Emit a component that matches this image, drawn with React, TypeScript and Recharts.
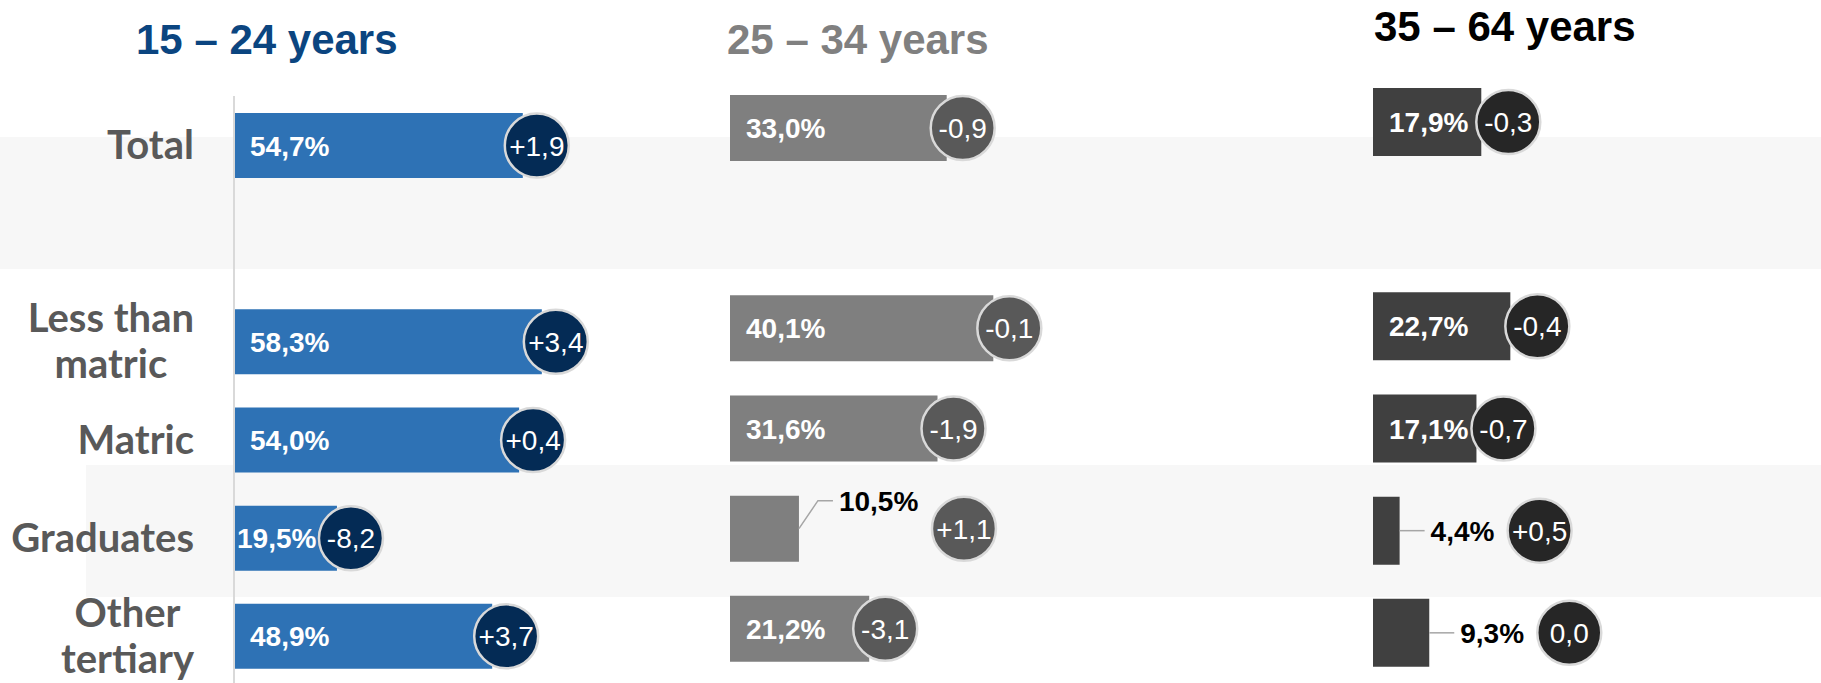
import { BarChart, Bar, XAxis, YAxis, LabelList } from 'recharts';

// Categories (the empty one is the spacer row under "Total").
const categories = ['Total', '', 'Less than matric', 'Matric', 'Graduates', 'Other tertiary'];

const rate15to24 = [54.7, null, 58.3, 54.0, 19.5, 48.9];
const change15to24 = [1.9, null, 3.4, 0.4, -8.2, 3.7];

const rate25to34 = [33.0, null, 40.1, 31.6, 10.5, 21.2];
const change25to34 = [-0.9, null, -0.1, -1.9, 1.1, -3.1];

const rate35to64 = [17.9, null, 22.7, 17.1, 4.4, 9.3];
const change35to64 = [-0.3, null, -0.4, -0.7, 0.5, 0.0];

const panelTitles = ['15 – 24 years', '25 – 34 years', '35 – 64 years'];

const FONT = '"Liberation Sans", Arial, sans-serif';
const CAT_FONT = 'Lato, "Open Sans", sans-serif';
const CAT_SIZE = 40;

const fmtRate = (v: number) => `${v.toFixed(1).replace('.', ',')}%`;
const fmtChange = (v: number) =>
  (v > 0 ? '+' : v < 0 ? '-' : '') + Math.abs(v).toFixed(1).replace('.', ',');

let measureCtx: CanvasRenderingContext2D | null = null;
function textWidth(s: string) {
  if (!measureCtx && typeof document !== 'undefined') {
    measureCtx = document.createElement('canvas').getContext('2d');
  }
  if (!measureCtx) return s.length * CAT_SIZE * 0.45;
  measureCtx.font = `700 ${CAT_SIZE}px ${CAT_FONT}`;
  return measureCtx.measureText(s).width;
}

type Panel = {
  title: string;
  titleColor: string;
  titleLeft: number;
  titleTop: number;
  rates: (number | null)[];
  changes: (number | null)[];
  bar: string;
  bubble: string;
  left: number;
  axisWidth: number;
  plotWidth: number;
  top: number;
  height: number;
  barSize: number;
  bubbleGap: number;
  outsideLift: number;
  narrowBelow: number;
};

const PANELS: Panel[] = [
  {
    title: panelTitles[0], titleColor: '#0B4580', titleLeft: 136, titleTop: 19,
    rates: rate15to24, changes: change15to24, bar: '#2E72B5', bubble: '#042B55',
    left: 0, axisWidth: 234, plotWidth: 528, top: 96, height: 685, barSize: 65,
    bubbleGap: 14, outsideLift: 0, narrowBelow: 120,
  },
  {
    title: panelTitles[1], titleColor: '#808080', titleLeft: 727, titleTop: 19,
    rates: rate25to34, changes: change25to34, bar: '#7F7F7F', bubble: '#595959',
    left: 730, axisWidth: 0, plotWidth: 394, top: 78, height: 679, barSize: 66,
    bubbleGap: 16, outsideLift: 28, narrowBelow: 120,
  },
  {
    title: panelTitles[2], titleColor: '#000000', titleLeft: 1374, titleTop: 6,
    rates: rate35to64, changes: change35to64, bar: '#404040', bubble: '#262626',
    left: 1373, axisWidth: 0, plotWidth: 363, top: 71, height: 684, barSize: 68,
    bubbleGap: 27, outsideLift: 0, narrowBelow: 0,
  },
];

function CategoryTick({ x, y, payload }: any) {
  const name: string = payload?.value ?? '';
  if (!name) return null;
  const cut = name.lastIndexOf(' ');
  const lines = name.length > 10 && cut > 0 ? [name.slice(0, cut), name.slice(cut + 1)] : [name];
  const style = { fontFamily: CAT_FONT, fontWeight: 700, fontSize: CAT_SIZE, fill: '#595959' };
  if (lines.length === 1) {
    return (
      <text x={x} y={y + 14} textAnchor="end" {...style}>
        {name}
      </text>
    );
  }
  // multi-line labels: lines centred on each other, block right-aligned to the tick
  const widest = Math.max(...lines.map(textWidth));
  const cx = x - widest / 2;
  return (
    <text textAnchor="middle" {...style}>
      <tspan x={cx} y={y - 9}>{lines[0]}</tspan>
      <tspan x={cx} y={y + 37}>{lines[1]}</tspan>
    </text>
  );
}

function makeBarLabel(p: Panel) {
  return (props: any) => {
    const vb = props.viewBox ?? props;
    const { x, y, width, height } = vb;
    const raw = props.value;
    if (raw == null || raw === '' || x == null) return null;
    const [rateStr, changeStr] = String(raw).split('|');
    const value = Number(rateStr);
    const change = changeStr === '' || changeStr == null ? null : Number(changeStr);
    const cy = y + height / 2;
    const end = x + width;
    const text = fmtRate(value);
    let bubbleX: number;
    let labelNode;
    if (width >= 80) {
      const pad = width < p.narrowBelow ? 3 : 16;
      labelNode = (
        <text x={x + pad} y={cy + 10} fill="#FFFFFF" fontSize={28} fontWeight={700} fontFamily={FONT}>
          {text}
        </text>
      );
      bubbleX = end + p.bubbleGap;
    } else {
      const lift = p.outsideLift;
      const lx = end + (lift ? 40 : 31);
      const ly = cy - lift;
      labelNode = (
        <g>
          <polyline
            points={`${end},${cy} ${end + (lift ? 19 : 5)},${ly} ${lx - 6},${ly}`}
            fill="none"
            stroke="#A6A6A6"
            strokeWidth={1.5}
          />
          <text x={lx} y={ly + 10} fill="#000000" fontSize={28} fontWeight={700} fontFamily={FONT}>
            {text}
          </text>
        </g>
      );
      bubbleX = lx + text.length * 16 + 45;
    }
    return (
      <g>
        {labelNode}
        {change != null && !Number.isNaN(change) && (
          <g>
            <circle cx={bubbleX} cy={cy} r={32} fill={p.bubble} stroke="#D9D9D9" strokeWidth={2.5} />
            <text
              x={bubbleX}
              y={cy + 10}
              textAnchor="middle"
              fill="#FFFFFF"
              fontSize={28}
              fontFamily={FONT}
            >
              {fmtChange(change)}
            </text>
          </g>
        )}
      </g>
    );
  };
}

function PanelChart({ p, domainMax }: { p: Panel; domainMax: number }) {
  const data = categories.map((name, i) => ({ name, rate: p.rates[i], change: p.changes[i] }));
  const showAxis = p.axisWidth > 0;
  return (
    <div style={{ position: 'absolute', left: p.left, top: 0 }}>
      <BarChart
        width={p.axisWidth + p.plotWidth}
        height={p.height}
        data={data}
        layout="vertical"
        margin={{ top: p.top, right: 0, bottom: 0, left: 0 }}
      >
        <XAxis type="number" domain={[0, domainMax]} hide />
        <YAxis
          type="category"
          dataKey="name"
          hide={!showAxis}
          width={p.axisWidth}
          axisLine={{ stroke: '#D9D9D9', strokeWidth: 2 }}
          tickLine={false}
          tickSize={0}
          tickMargin={40}
          interval={0}
          tick={<CategoryTick />}
        />
        <Bar dataKey="rate" fill={p.bar} barSize={p.barSize} isAnimationActive={false}>
          <LabelList
            dataKey={(d: any) => (d.rate == null ? null : `${d.rate}|${d.change ?? ''}`)}
            content={makeBarLabel(p)}
          />
        </Bar>
      </BarChart>
    </div>
  );
}

export default function App() {
  return (
    <div style={{ position: 'relative', width: 1821, height: 683, overflow: 'hidden', background: '#FFFFFF' }}>
      <style>{'body{margin:0}'}</style>
      {/* light background bands */}
      <div style={{ position: 'absolute', left: 0, top: 137, width: 1821, height: 132, background: '#F7F7F7' }} />
      <div style={{ position: 'absolute', left: 86, top: 465, width: 1735, height: 132, background: '#F7F7F7' }} />
      {PANELS.map((p) => (
        <div
          key={p.title}
          style={{
            position: 'absolute',
            left: p.titleLeft,
            top: p.titleTop,
            fontFamily: FONT,
            fontWeight: 700,
            fontSize: 42,
            lineHeight: '42px',
            color: p.titleColor,
            whiteSpace: 'nowrap',
          }}
        >
          {p.title}
        </div>
      ))}
      <PanelChart p={PANELS[0]} domainMax={100} />
      <PanelChart p={PANELS[1]} domainMax={60} />
      <PanelChart p={PANELS[2]} domainMax={60} />
    </div>
  );
}
